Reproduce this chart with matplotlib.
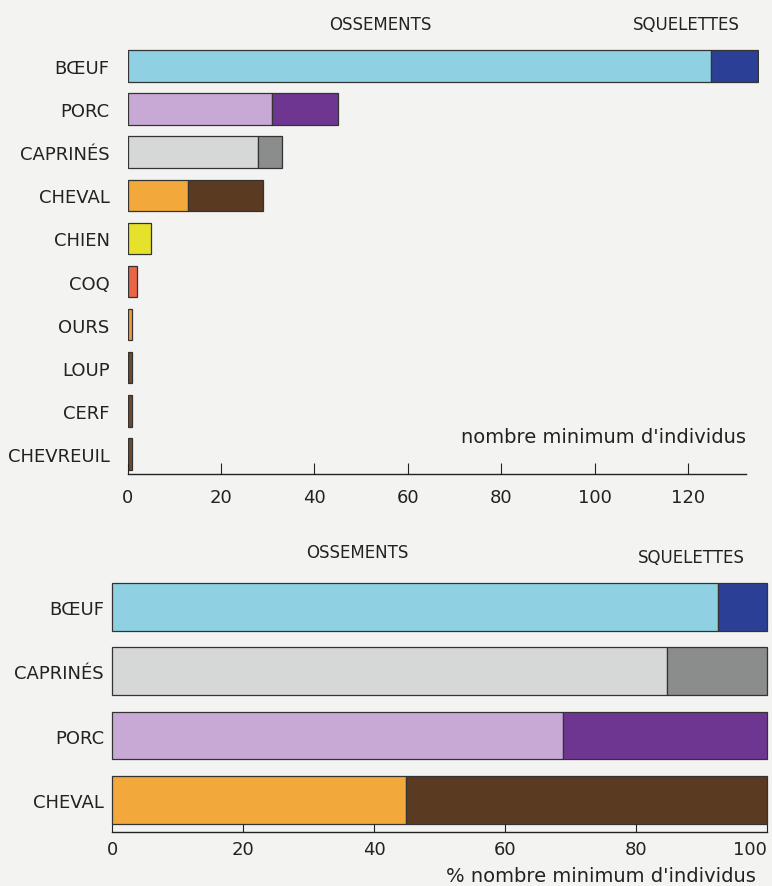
import matplotlib.pyplot as plt

# ── Data ─────────────────────────────────────────────
species = ["BŒUF", "PORC", "CAPRINÉS", "CHEVAL", "CHIEN", "COQ",
           "OURS", "LOUP", "CERF", "CHEVREUIL"]
ossements = [125, 31, 28, 13, 5, 2, 1, 1, 1, 1]
squelettes = [10, 14, 5, 16, 0, 0, 0, 0, 0, 0]

light_colors = ["#8fd0e2", "#c8a9d6", "#d6d8d7", "#f3a83c", "#e6e22c", "#ea6547",
                "#f29c42", "#6f4a2d", "#6f4a2d", "#6f4a2d"]
dark_colors = ["#2b3f97", "#6e3691", "#8b8c8c", "#5a3b22", None, None,
               None, None, None, None]

pct_species = ["BŒUF", "CAPRINÉS", "PORC", "CHEVAL"]

top_ticks = [0, 20, 40, 60, 80, 100, 120]
pct_ticks = [0, 20, 40, 60, 80, 100]

plt.rcParams['font.family'] = ['DejaVu Sans']
BG = '#f3f3f1'
EDGE = '#333333'

W, H = 772, 887
fig = plt.figure(figsize=(W / 100, H / 100), dpi=100, facecolor=BG)


def px_axes(left, top, right, bottom):
    return fig.add_axes([left / W, 1 - bottom / H, (right - left) / W, (bottom - top) / H])


def style(ax, bounds, ticks, pad):
    for s in ('top', 'right', 'left'):
        ax.spines[s].set_visible(False)
    ax.spines['bottom'].set_bounds(*bounds)
    ax.spines['bottom'].set_linewidth(1.0)
    ax.spines['bottom'].set_color('#222222')
    ax.set_facecolor('none')
    ax.set_xticks(ticks)
    ax.tick_params(axis='x', direction='in', length=8, width=0.8, pad=pad,
                   labelsize=13, colors='#222222')
    ax.tick_params(axis='y', length=0, labelsize=13, colors='#222222')


# ── Top chart: counts ────────────────────────────────
ax1 = px_axes(127.6, 40, 127.6 + 135.2 * 4.67, 475)
ypos = list(range(len(species)))
ax1.barh(ypos, ossements, height=0.73, color=light_colors, edgecolor=EDGE, linewidth=0.9)
for i, (o, s, c) in enumerate(zip(ossements, squelettes, dark_colors)):
    if s:
        ax1.barh(i, s, left=o, height=0.73, color=c, edgecolor=EDGE, linewidth=0.9)
ax1.set_yticks(ypos)
ax1.set_yticklabels(species)
ax1.set_xlim(0, 135.2)
ax1.set_ylim(9.466, -0.626)
style(ax1, (0, 132.4), top_ticks, 10)
ax1.tick_params(axis='y', pad=13)
ax1.text(132.4, 8.6, "nombre minimum d'individus", ha='right', va='center',
         fontsize=14, color='#222222')

# ── Bottom chart: percentages ────────────────────────
pct_oss = []
pct_sq = []
pct_light = []
pct_dark = []
for name in pct_species:
    k = species.index(name)
    tot = ossements[k] + squelettes[k]
    pct_oss.append(100 * ossements[k] / tot)
    pct_sq.append(100 * squelettes[k] / tot)
    pct_light.append(light_colors[k])
    pct_dark.append(dark_colors[k])

ax2 = px_axes(112.3, 570, 766.5, 833)
ypos2 = list(range(len(pct_species)))
ax2.barh(ypos2, pct_oss, height=0.74, color=pct_light, edgecolor=EDGE, linewidth=0.9,
         clip_on=False)
ax2.barh(ypos2, pct_sq, left=pct_oss, height=0.74, color=pct_dark, edgecolor=EDGE,
         linewidth=0.9, clip_on=False)
ax2.set_yticks(ypos2)
ax2.set_yticklabels(pct_species)
ax2.set_xlim(0, 100)
ax2.set_ylim(3.5, -0.59)
style(ax2, (0, 100), pct_ticks, 6)
ax2.tick_params(axis='x', length=6)
ax2.tick_params(axis='y', pad=6)
ax2.get_xticklabels()[-1].set_horizontalalignment('right')

# ── Column headers ───────────────────────────────────
hdr = dict(ha='center', va='center', fontsize=12, color='#222222')
fig.text(380 / W, 1 - 25 / H, "OSSEMENTS", **hdr)
fig.text(686 / W, 1 - 25 / H, "SQUELETTES", **hdr)
fig.text(357 / W, 1 - 553 / H, "OSSEMENTS", **hdr)
fig.text(691 / W, 1 - 558 / H, "SQUELETTES", **hdr)
fig.text(756 / W, 1 - 877 / H, "% nombre minimum d'individus", ha='right', va='center',
         fontsize=14, color='#222222')

fig.savefig('out.png', dpi=100, facecolor=BG)
